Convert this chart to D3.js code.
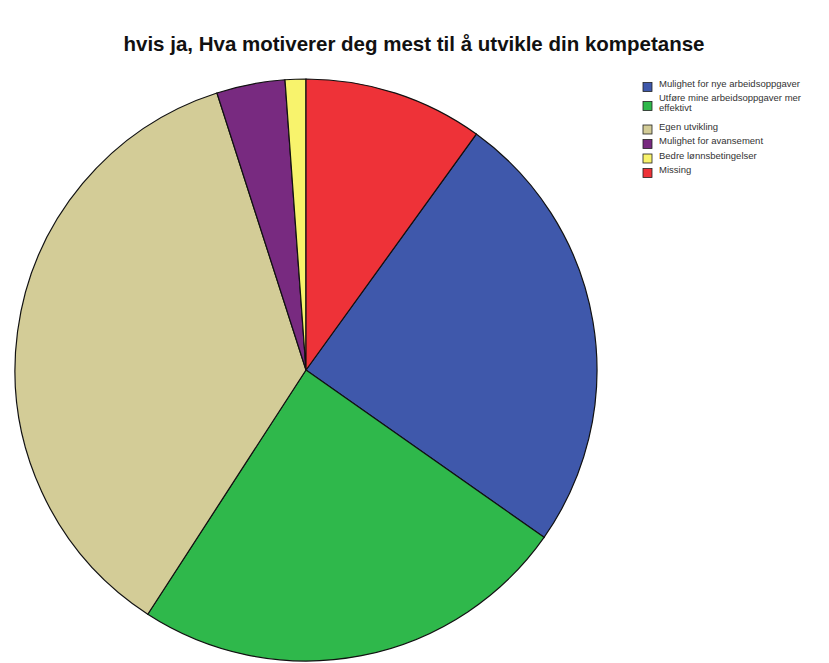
<!DOCTYPE html>
<html>
<head>
<meta charset="utf-8">
<script src="https://cdn.jsdelivr.net/npm/d3@7"></script>
<style>
  body { margin: 0; background: #fff; }
  svg { display: block; font-family: "Liberation Sans", Arial, sans-serif; }
</style>
</head>
<body>
<svg></svg>
<script>
var width = 829;
var height = 663;

// shares of answers (percent)
var categories = [
  "Mulighet for nye arbeidsoppgaver",
  "Utføre mine arbeidsoppgaver mer effektivt",
  "Egen utvikling",
  "Mulighet for avansement",
  "Bedre lønnsbetingelser",
  "Missing"
];
var shares = [24.8, 24.4, 35.9, 3.8, 1.15, 9.95];
var colors = ["#3f58ab", "#2fb84b", "#d3cc97", "#782a80", "#f8f36c", "#ee3238"];
var legendLines = [
  ["Mulighet for nye arbeidsoppgaver"],
  ["Utføre mine arbeidsoppgaver mer", "effektivt"],
  ["Egen utvikling"],
  ["Mulighet for avansement"],
  ["Bedre lønnsbetingelser"],
  ["Missing"]
];

var data = categories.map((c, i) => ({ name: c, value: shares[i] }));

var svg = d3.select("svg")
    .attr("width", width)
    .attr("height", height);

svg.append("text")
    .attr("x", 414)
    .attr("y", 51)
    .style("text-anchor", "middle")
    .style("font-weight", "bold")
    .style("font-size", "20.5px")
    .style("fill", "#111")
    .text("hvis ja, Hva motiverer deg mest til å utvikle din kompetanse");

var color = d3.scaleOrdinal()
    .domain(categories)
    .range(colors);

// the last slice (Missing) ends at 12 o'clock
var total = d3.sum(shares);
var offset = 2 * Math.PI * shares[shares.length - 1] / total;

var arcs = d3.pie()
    .value(d => d.value)
    .sort(null)
    .startAngle(offset)
    .endAngle(offset + 2 * Math.PI)
    (data);

var path = d3.arc()
    .innerRadius(0)
    .outerRadius(291);

svg.append("g")
    .attr("transform", "translate(306, 370)")
  .selectAll("path")
  .data(arcs)
  .enter()
  .append("path")
    .attr("d", path)
    .attr("fill", d => color(d.data.name))
    .attr("stroke", "#111")
    .attr("stroke-width", 1.2);

// legend
var rowY = [87, 106, 129.5, 144, 158.5, 173];
var legend = svg.append("g")
  .selectAll("g")
  .data(categories)
  .enter()
  .append("g")
    .attr("transform", (d, i) => `translate(643, ${rowY[i]})`);

legend.append("rect")
    .attr("x", 0)
    .attr("y", -4.5)
    .attr("width", 9)
    .attr("height", 9)
    .attr("fill", d => color(d))
    .attr("stroke", "#222")
    .attr("stroke-width", 0.8);

legend.append("text")
    .attr("x", 16)
    .attr("y", (d, i) => legendLines[i].length > 1 ? -5 : 0)
    .attr("dy", "0.35em")
    .style("font-size", "9.5px")
    .style("fill", "#333")
  .selectAll("tspan")
  .data((d, i) => legendLines[i])
  .enter()
  .append("tspan")
    .attr("x", 16)
    .attr("dy", (d, j) => j === 0 ? 0 : 10)
    .text(d => d);
</script>
</body>
</html>
